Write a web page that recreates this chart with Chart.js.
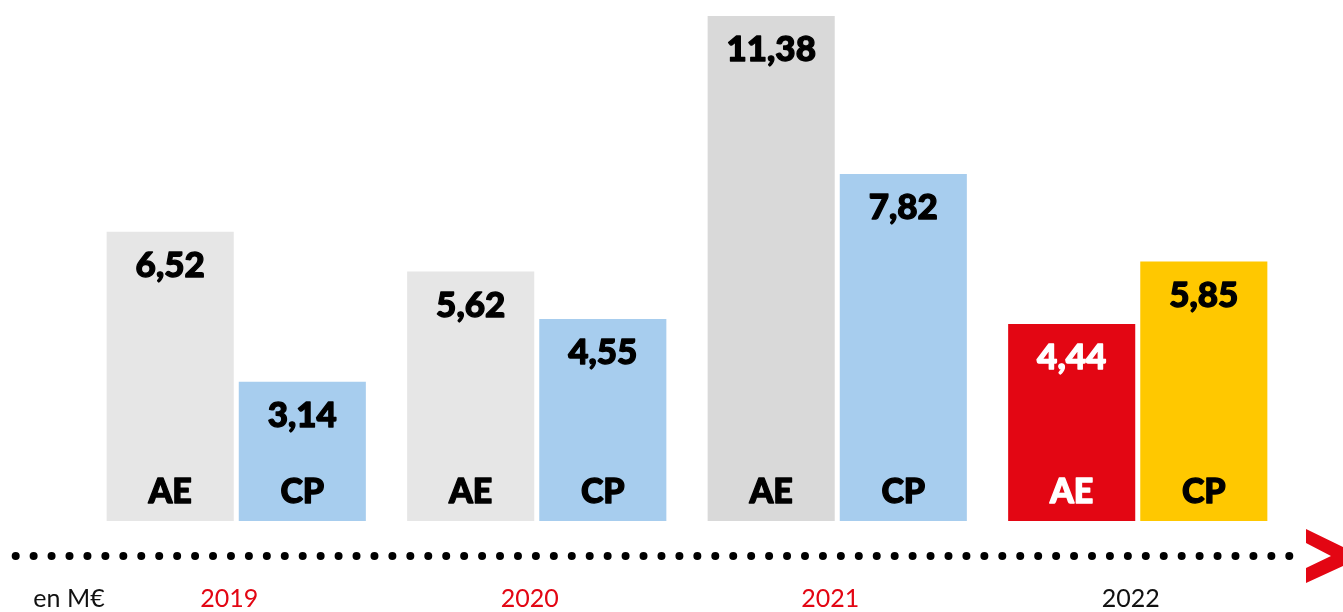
<!DOCTYPE html>
<html>
<head>
<meta charset="utf-8">
<script src="https://cdn.jsdelivr.net/npm/chart.js@4"></script>
<style>
  html, body { margin: 0; padding: 0; background: #ffffff; }
  #wrap { width: 1343px; height: 612px; }
</style>
</head>
<body>
<div id="wrap"><canvas id="c" width="1343" height="612"></canvas></div>
<script>
const years = ['2019', '2020', '2021', '2022'];
const seriesNames = ['AE', 'CP'];
const aeValues = [6.52, 5.62, 11.38, 4.44];
const cpValues = [3.14, 4.55, 7.82, 5.85];
const unitLabel = 'en M€';

const aeColors = ['#e6e6e6', '#e6e6e6', '#d9d9d9', '#e30613'];
const cpColors = ['#a7cdee', '#a7cdee', '#a7cdee', '#ffc800'];
const aeTextColors = ['#000000', '#000000', '#000000', '#ffffff'];
const cpTextColors = ['#000000', '#000000', '#000000', '#000000'];
const yearColors = ['#e30613', '#e30613', '#e30613', '#111111'];
const RED = '#e30613';

const fmt = v => v.toFixed(2).replace('.', ',');

function heavyText(ctx, txt, x, y, color) {
  ctx.fillStyle = color;
  ctx.strokeStyle = color;
  ctx.lineWidth = 1.3;
  ctx.lineJoin = 'round';
  ctx.fillText(txt, x, y);
  ctx.strokeText(txt, x, y);
}

const decorPlugin = {
  id: 'decor',
  afterDatasetsDraw(chart) {
    const ctx = chart.ctx;
    const textCols = [aeTextColors, cpTextColors];
    ctx.save();
    ctx.textAlign = 'center';
    ctx.textBaseline = 'middle';
    chart.data.datasets.forEach((ds, di) => {
      const meta = chart.getDatasetMeta(di);
      meta.data.forEach((bar, i) => {
        ctx.font = '900 35px Lato';
        heavyText(ctx, fmt(ds.data[i]), bar.x, bar.y + 34, textCols[di][i]);
        ctx.font = '900 34px Lato';
        heavyText(ctx, ds.label, bar.x, bar.base - 29, textCols[di][i]);
      });
    });
    ctx.restore();
  },
  afterDraw(chart) {
    const ctx = chart.ctx;
    const xs = chart.scales.x;
    ctx.save();
    // dotted timeline
    ctx.fillStyle = '#000000';
    const n = 72, x0 = 15.7, x1 = 1289.3, y = 556;
    for (let k = 0; k < n; k++) {
      const x = x0 + (x1 - x0) * k / (n - 1);
      ctx.beginPath();
      ctx.arc(x, y, 4, 0, Math.PI * 2);
      ctx.fill();
    }
    // arrow head
    ctx.fillStyle = RED;
    ctx.beginPath();
    ctx.moveTo(1306, 529);
    ctx.lineTo(1343, 547);
    ctx.lineTo(1343, 566);
    ctx.lineTo(1306, 583);
    ctx.lineTo(1306, 568);
    ctx.lineTo(1331, 556);
    ctx.lineTo(1306, 543);
    ctx.closePath();
    ctx.fill();
    // year labels under each group, positioned by the x scale
    ctx.font = '25px Lato';
    ctx.textAlign = 'center';
    ctx.textBaseline = 'middle';
    years.forEach((yr, i) => {
      ctx.fillStyle = yearColors[i];
      ctx.fillText(yr, xs.getPixelForTick(i) - 7, 599);
    });
    // unit label
    ctx.fillStyle = '#111111';
    ctx.fillText(unitLabel, 69, 599);
    ctx.restore();
  }
};

new Chart(document.getElementById('c'), {
  type: 'bar',
  data: {
    labels: years,
    datasets: [
      { label: seriesNames[0], data: aeValues, backgroundColor: aeColors, borderWidth: 0 },
      { label: seriesNames[1], data: cpValues, backgroundColor: cpColors, borderWidth: 0 }
    ]
  },
  options: {
    responsive: false,
    devicePixelRatio: 1,
    animation: false,
    categoryPercentage: 0.8793,
    barPercentage: 0.962,
    layout: { padding: { left: 86, right: 55, top: 0, bottom: 91 } },
    plugins: { legend: { display: false }, tooltip: { enabled: false }, title: { display: false } },
    scales: {
      y: { display: false, min: 0, max: 11.74 },
      x: { display: false }
    }
  },
  plugins: [decorPlugin]
});
</script>
</body>
</html>
